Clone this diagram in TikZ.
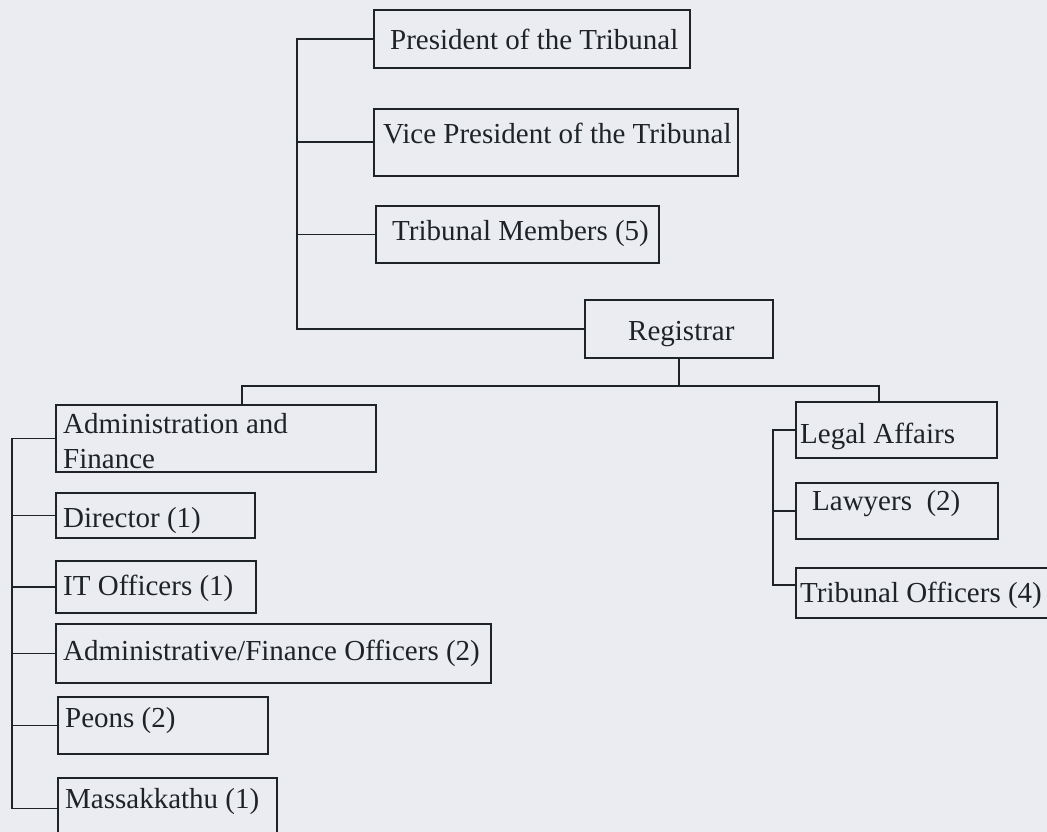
\documentclass[tikz,border=0pt]{standalone}
\usepackage{fontspec}
\setmainfont{Liberation Serif}
\definecolor{paper}{RGB}{234,236,241}
\definecolor{ink}{RGB}{30,35,40}
\tikzset{
	unit/.style = {draw = ink, line width = 1.8pt, inner sep = 0pt, anchor = north west},
	caption/.style = {anchor = base west, inner sep = 0pt, align = left, text = ink, font = \fontsize{29}{35}\selectfont},
	link/.style = {draw = ink, line width = 1.8pt},
}
\begin{document}
\begin{tikzpicture}[x = 1pt, y = -1pt]
	\useasboundingbox (0,0) rectangle (1047,832);
	\clip (0,0) rectangle (1047,832);
	\fill[paper] (0,0) rectangle (1047,832);

	% tribunal
	\node[unit, minimum width = 316, minimum height = 58] (pres) at (373,9) {};
	\node[caption] (presT) at (390,50) {President of the Tribunal};
	\node[unit, minimum width = 364, minimum height = 67] (vp) at (373,108) {};
	\node[caption] (vpT) at (383,143) {Vice President of the Tribunal};
	\node[unit, minimum width = 283, minimum height = 57] (mem) at (375,205) {};
	\node[caption] (memT) at (392,240) {Tribunal Members (5)};
	\node[unit, minimum width = 188, minimum height = 58] (reg) at (584,299) {};
	\node[caption] (regT) at (628,340) {Registrar};

	% administration and finance
	\node[unit, minimum width = 320, minimum height = 67] (admin) at (55,404) {};
	\node[caption] (adminT) at (63,468) {Administration and\\Finance};
	\node[unit, minimum width = 199, minimum height = 45] (dir) at (55,492) {};
	\node[caption] (dirT) at (63,527) {Director (1)};
	\node[unit, minimum width = 200, minimum height = 52] (it) at (55,560) {};
	\node[caption] (itT) at (63,595) {IT Officers (1)};
	\node[unit, minimum width = 435, minimum height = 59] (afo) at (55,623) {};
	\node[caption] (afoT) at (63,660) {Administrative/Finance Officers (2)};
	\node[unit, minimum width = 210, minimum height = 57] (peons) at (57,696) {};
	\node[caption] (peonsT) at (65,727) {Peons (2)};
	\node[unit, minimum width = 219, minimum height = 61] (mass) at (57,777) {};
	\node[caption] (massT) at (65,808) {Massakkathu (1)};

	% legal affairs
	\node[unit, minimum width = 201, minimum height = 56] (legal) at (795,401) {};
	\node[caption] (legalT) at (800,443) {Legal Affairs};
	\node[unit, minimum width = 202, minimum height = 56] (law) at (795,482) {};
	\node[caption] (lawT) at (812,510) {Lawyers\ \ (2)};
	\node[unit, minimum width = 270, minimum height = 50] (tro) at (795,567) {};
	\node[caption] (troT) at (800,602) {Tribunal Officers (4)};

	% buses
	\coordinate (busTop) at (297,0);
	\coordinate (busAdm) at (12,0);
	\coordinate (busLeg) at (773,0);
	\coordinate (splitL) at (242,386);
	\coordinate (splitR) at (879,386);

	\draw[link] (pres.west) -- (pres.west -| busTop) |- (reg.west);
	\foreach \n in {vp, mem}
		\draw[link] (\n.west) -- (\n.west -| busTop);
	\draw[link] (reg.south) -- (reg.south |- splitL);
	\draw[link] (splitL |- admin.north) -- (splitL) -- (splitR) -- (splitR |- legal.north);
	\draw[link] (admin.west) -- (admin.west -| busAdm) |- (mass.west);
	\foreach \n in {dir, it, afo, peons}
		\draw[link] (\n.west) -- (\n.west -| busAdm);
	\draw[link] (legal.west) -- (legal.west -| busLeg) |- ([yshift = 8pt]tro.west);
	\draw[link] (law.west) -- (law.west -| busLeg);
\end{tikzpicture}
\end{document}
